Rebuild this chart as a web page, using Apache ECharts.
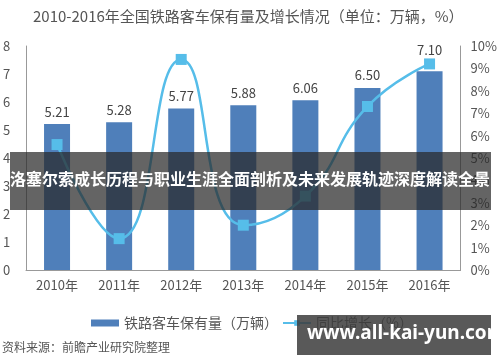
<!DOCTYPE html>
<html><head><meta charset="utf-8">
<script src="https://cdn.jsdelivr.net/npm/echarts@6/dist/echarts.min.js"></script>
<style>html,body{margin:0;padding:0;background:#fff}#c{width:500px;height:362px}</style>
</head><body><div id="c"></div>
<script>
const categories = ['2010年','2011年','2012年','2013年','2014年','2015年','2016年'];
const stock = [5.21, 5.28, 5.77, 5.88, 6.06, 6.50, 7.10];
const growth = [5.6, 1.4, 9.4, 2.0, 3.3, 7.3, 9.2];
const leftTicks = [0,1,2,3,4,5,6,7,8];
const rightTicks = [0,1,2,3,4,5,6,7,8,9,10];

const chart = echarts.init(document.getElementById('c'));
const font = '"Noto Sans CJK SC", "Noto Sans", sans-serif';
const barData = stock.map((v, i) => i === stock.length - 1
  ? {value: v, label: {distance: 15}} : v);
chart.setOption({
  animation: false,
  textStyle: {fontFamily: font},
  title: {
    text: '2010-2016年全国铁路客车保有量及增长情况（单位：万辆，%）',
    left: 28, top: 4,
    textStyle: {fontSize: 15, fontWeight: 'normal', color: '#555', fontFamily: font}
  },
  legend: {
    left: 86, top: 311, itemGap: 4, itemWidth: 28, itemHeight: 7,
    textStyle: {fontSize: 14, color: '#555', fontFamily: font},
    data: [
      {name: '铁路客车保有量（万辆）', icon: 'rect'},
      {name: '同比增长（%）'}
    ]
  },
  grid: {left: 23, right: 37, top: 46, bottom: 92},
  xAxis: {
    type: 'category', data: categories,
    axisLine: {lineStyle: {color: '#999'}},
    axisTick: {show: false},
    axisLabel: {fontSize: 13, color: '#555', margin: 9}
  },
  yAxis: [
    {type: 'value', min: leftTicks[0], max: leftTicks[leftTicks.length-1], interval: 1,
     axisLine: {show: true, lineStyle: {color: '#999'}}, splitLine: {show: false},
     axisTick: {show: false},
     axisLabel: {fontSize: 13, color: '#555', margin: 13, align: 'left', padding: [0,0,0,-10]}},
    {type: 'value', min: rightTicks[0], max: rightTicks[rightTicks.length-1], interval: 1,
     axisLine: {show: true, lineStyle: {color: '#999'}}, splitLine: {show: false},
     axisTick: {show: false},
     axisLabel: {fontSize: 13, color: '#555', margin: 10, formatter: '{value}%'}}
  ],
  series: [
    {name: '铁路客车保有量（万辆）', type: 'bar', data: barData, barWidth: 26,
     itemStyle: {color: '#4f7fba'},
     label: {show: true, position: 'top', fontSize: 13, color: '#444', distance: 6,
             formatter: p => Number(p.value).toFixed(2)}},
    {name: '同比增长（%）', type: 'line', yAxisIndex: 1, data: growth, smooth: 0.5,
     symbol: 'rect', symbolSize: 11,
     lineStyle: {color: '#56bde9', width: 2.5},
     itemStyle: {color: '#56bde9'}}
  ],
  graphic: [
    {type: 'rect', shape: {x: 10, y: 152, width: 481, height: 58},
     style: {fill: 'rgba(40,40,40,0.72)'}, z: 100},
    {type: 'text', left: 'center', top: 171,
     style: {text: '洛塞尔索成长历程与职业生涯全面剖析及未来发展轨迹深度解读全景', fill: '#fff',
             font: 'bold 16px "Noto Sans CJK SC", sans-serif'}, z: 101},
    {type: 'rect', shape: {x: 297, y: 315, width: 194, height: 40},
     style: {fill: 'rgba(60,60,60,0.85)'}, z: 100},
    {type: 'text', left: 307, top: 324,
     style: {text: 'www.all-kai-yun.com', fill: '#fff',
             font: 'bold 19px "Noto Sans", sans-serif'}, z: 101},
    {type: 'text', left: 2, top: 341,
     style: {text: '资料来源：前瞻产业研究院整理', fill: '#555',
             font: '12px "Noto Sans CJK SC", sans-serif'}}
  ]
});
</script></body></html>
